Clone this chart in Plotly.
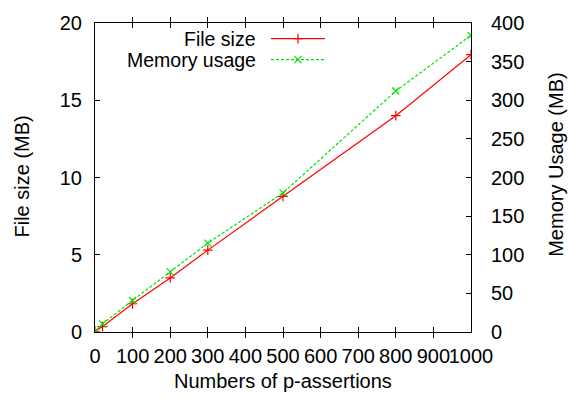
import plotly.graph_objects as go

# Data
assertions = [0, 20, 100, 200, 300, 500, 800, 1000]
file_size_mb = [0.05, 0.35, 1.83, 3.5, 5.3, 8.78, 14.0, 17.95]
memory_mb = [1, 10.5, 40.8, 77.9, 115, 180, 312, 384]

series_names = ["File size", "Memory usage"]
x_title = "Numbers of p-assertions"
y_title = "File size (MB)"
y2_title = "Memory Usage (MB)"

RED = "#ff0000"
GREEN = "#00e000"
FONT = "Liberation Sans, Arial, sans-serif"
FS = 20

W, H = 569, 398
L, R, T, B = 95, 471, 16, 332

fig = go.Figure()
fig.add_trace(go.Scatter(
    x=assertions, y=file_size_mb, mode="lines+markers", name=series_names[0],
    line=dict(color=RED, width=1.2),
    marker=dict(symbol="cross-thin", size=7, line=dict(color=RED, width=1.2)),
    xaxis="x", yaxis="y", showlegend=False))
fig.add_trace(go.Scatter(
    x=assertions, y=memory_mb, mode="lines+markers", name=series_names[1],
    line=dict(color=GREEN, width=1.2, dash="3px,2px"),
    marker=dict(symbol="x-thin", size=7, line=dict(color=GREEN, width=1.2)),
    xaxis="x", yaxis="y2", showlegend=False))

# manual gnuplot-style legend (text left, sample right)
def px2x(p):
    return (p - L) / (R - L)

def py2y(p):
    return (B - p) / (B - T)

rows = [32.0, 53.5]
styles = [(RED, "solid", "cross-thin"), (GREEN, "3px,2px", "x-thin")]
for name, ry, (col, dash, sym) in zip(series_names, rows, styles):
    fig.add_annotation(x=px2x(257), y=py2y(ry), xref="paper", yref="paper",
                       text=name, showarrow=False, xanchor="right", yanchor="middle",
                       borderpad=0,
                       font=dict(family=FONT, size=19.5, color="black"))
    fig.add_trace(go.Scatter(
        x=[px2x(271), px2x(325)], y=[py2y(ry), py2y(ry)], mode="lines",
        line=dict(color=col, width=1.2, dash=dash), xaxis="x3", yaxis="y3",
        showlegend=False, hoverinfo="skip"))
    fig.add_trace(go.Scatter(
        x=[px2x(298)], y=[py2y(ry)], mode="markers",
        marker=dict(symbol=sym, size=7, line=dict(color=col, width=1.2)),
        xaxis="x3", yaxis="y3", showlegend=False, hoverinfo="skip"))

axis_common = dict(showgrid=False, zeroline=False, showline=True, linecolor="black",
                   linewidth=1, ticks="inside", ticklen=5, tickcolor="black",
                   tickfont=dict(family=FONT, size=FS, color="black"))

fig.update_layout(
    width=W, height=H,
    margin=dict(l=L, r=W - R, t=T, b=H - B, pad=0),
    paper_bgcolor="white", plot_bgcolor="white",
    font=dict(family=FONT, size=FS, color="black"),
    xaxis=dict(range=[0, 1000], dtick=100, tick0=0, mirror="allticks",
               tickangle=0, ticklabelstandoff=6, **axis_common),
    yaxis=dict(range=[0, 20], dtick=5, tick0=0, mirror=False,
               ticklabelstandoff=8, **axis_common),
    yaxis2=dict(range=[0, 400], dtick=50, tick0=0, overlaying="y", side="right",
                ticklabelstandoff=15, **axis_common),
    xaxis3=dict(range=[0, 1], visible=False, overlaying="x"),
    yaxis3=dict(range=[0, 1], visible=False, overlaying="y"),
)

fig.add_annotation(x=0.5, y=py2y(382), xref="paper", yref="paper", text=x_title,
                   showarrow=False, xanchor="center", yanchor="middle",
                   font=dict(family=FONT, size=FS))
fig.add_annotation(x=px2x(22), y=py2y(173), xref="paper", yref="paper", text=y_title,
                   showarrow=False, textangle=-90, xanchor="center", yanchor="middle",
                   font=dict(family=FONT, size=FS))
fig.add_annotation(x=px2x(556), y=py2y(161), xref="paper", yref="paper", text=y2_title,
                   showarrow=False, textangle=-90, xanchor="center", yanchor="middle",
                   font=dict(family=FONT, size=FS))

fig.write_html("out.html")
